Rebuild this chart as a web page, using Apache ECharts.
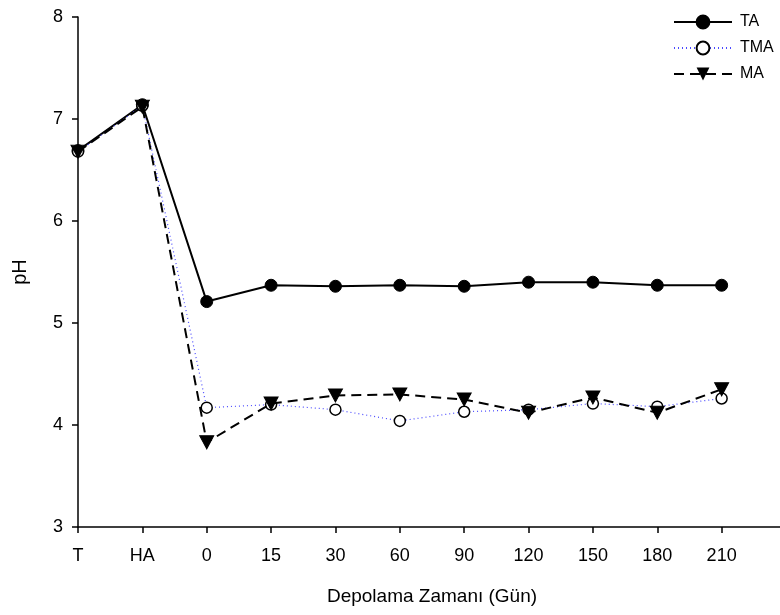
<!DOCTYPE html>
<html>
<head>
<meta charset="utf-8">
<script src="https://cdn.jsdelivr.net/npm/echarts@6/dist/echarts.min.js"></script>
<style>
  html, body { margin: 0; padding: 0; background: #fff; }
  #main { width: 780px; height: 615px; }
</style>
</head>
<body>
<div id="main"></div>
<script>
    // kategoriler (son bos eleman eksenin sag ucu icin)
    var categories = ['T', 'HA', '0', '15', '30', '60', '90', '120', '150', '180', '210', ''];
    var taData  = [6.69, 7.14, 5.21, 5.37, 5.36, 5.37, 5.36, 5.40, 5.40, 5.37, 5.37];
    var tmaData = [6.68, 7.13, 4.17, 4.20, 4.15, 4.04, 4.13, 4.15, 4.21, 4.18, 4.26];
    var maData  = [6.68, 7.12, 3.83, 4.21, 4.29, 4.30, 4.25, 4.12, 4.27, 4.12, 4.35];
    var yTicks  = [3, 4, 5, 6, 7, 8];

    var fontName = 'Liberation Sans, Arial, sans-serif';
    var myChart = echarts.init(document.getElementById('main'));

    var option = {
        backgroundColor: '#fff',
        animation: false,
        legend: {
            orient: 'vertical',
            left: 668,
            top: 9,
            itemWidth: 58,
            itemHeight: 16,
            itemGap: 10,
            textStyle: { fontFamily: fontName, fontSize: 16, color: '#000', padding: [0, 0, 0, 3] },
            data: ['TA', 'TMA', 'MA']
        },
        grid: {
            left: 78,
            width: 708,
            top: 17,
            bottom: 88,
            containLabel: false,
            outerBoundsMode: 'none'
        },
        xAxis: {
            type: 'category',
            boundaryGap: false,
            data: categories,
            name: 'Depolama Zamanı (Gün)',
            nameLocation: 'middle',
            nameGap: 60,
            nameTextStyle: { fontFamily: fontName, fontSize: 19, color: '#000' },
            axisLine: { lineStyle: { color: '#000', width: 1.5 } },
            axisTick: { show: true, length: 6, interval: 0, lineStyle: { color: '#000', width: 1.5 } },
            axisLabel: { interval: 0, margin: 20, fontFamily: fontName, fontSize: 18, color: '#000' },
            splitLine: { show: false }
        },
        yAxis: {
            type: 'value',
            min: yTicks[0],
            max: yTicks[yTicks.length - 1],
            interval: 1,
            name: 'pH',
            nameLocation: 'middle',
            nameGap: 48,
            nameTextStyle: { fontFamily: fontName, fontSize: 20, color: '#000' },
            axisLine: { show: true, lineStyle: { color: '#000', width: 1.5 } },
            axisTick: { show: true, length: 6, lineStyle: { color: '#000', width: 1.5 } },
            axisLabel: { margin: 15, fontFamily: fontName, fontSize: 18, color: '#000' },
            splitLine: { show: false }
        },
        series: [
            {
                name: 'TA',
                type: 'line',
                data: taData,
                symbol: 'circle',
                symbolSize: 12,
                lineStyle: { color: '#000', width: 2 },
                itemStyle: { color: '#000', borderColor: '#000', borderWidth: 1 },
                z: 3
            },
            {
                name: 'TMA',
                type: 'line',
                data: tmaData,
                symbol: 'circle',
                symbolSize: 11,
                lineStyle: { color: '#4a4aff', width: 1.2, type: [1, 3] },
                itemStyle: { color: '#fff', borderColor: '#000', borderWidth: 1.5 },
                z: 4
            },
            {
                name: 'MA',
                type: 'line',
                data: maData,
                symbol: 'triangle',
                symbolRotate: 180,
                symbolSize: [14, 13],
                lineStyle: { color: '#000', width: 2, type: [10, 6] },
                itemStyle: { color: '#000', borderColor: '#000' },
                z: 5
            }
        ]
    };

    myChart.setOption(option);
</script>
</body>
</html>
